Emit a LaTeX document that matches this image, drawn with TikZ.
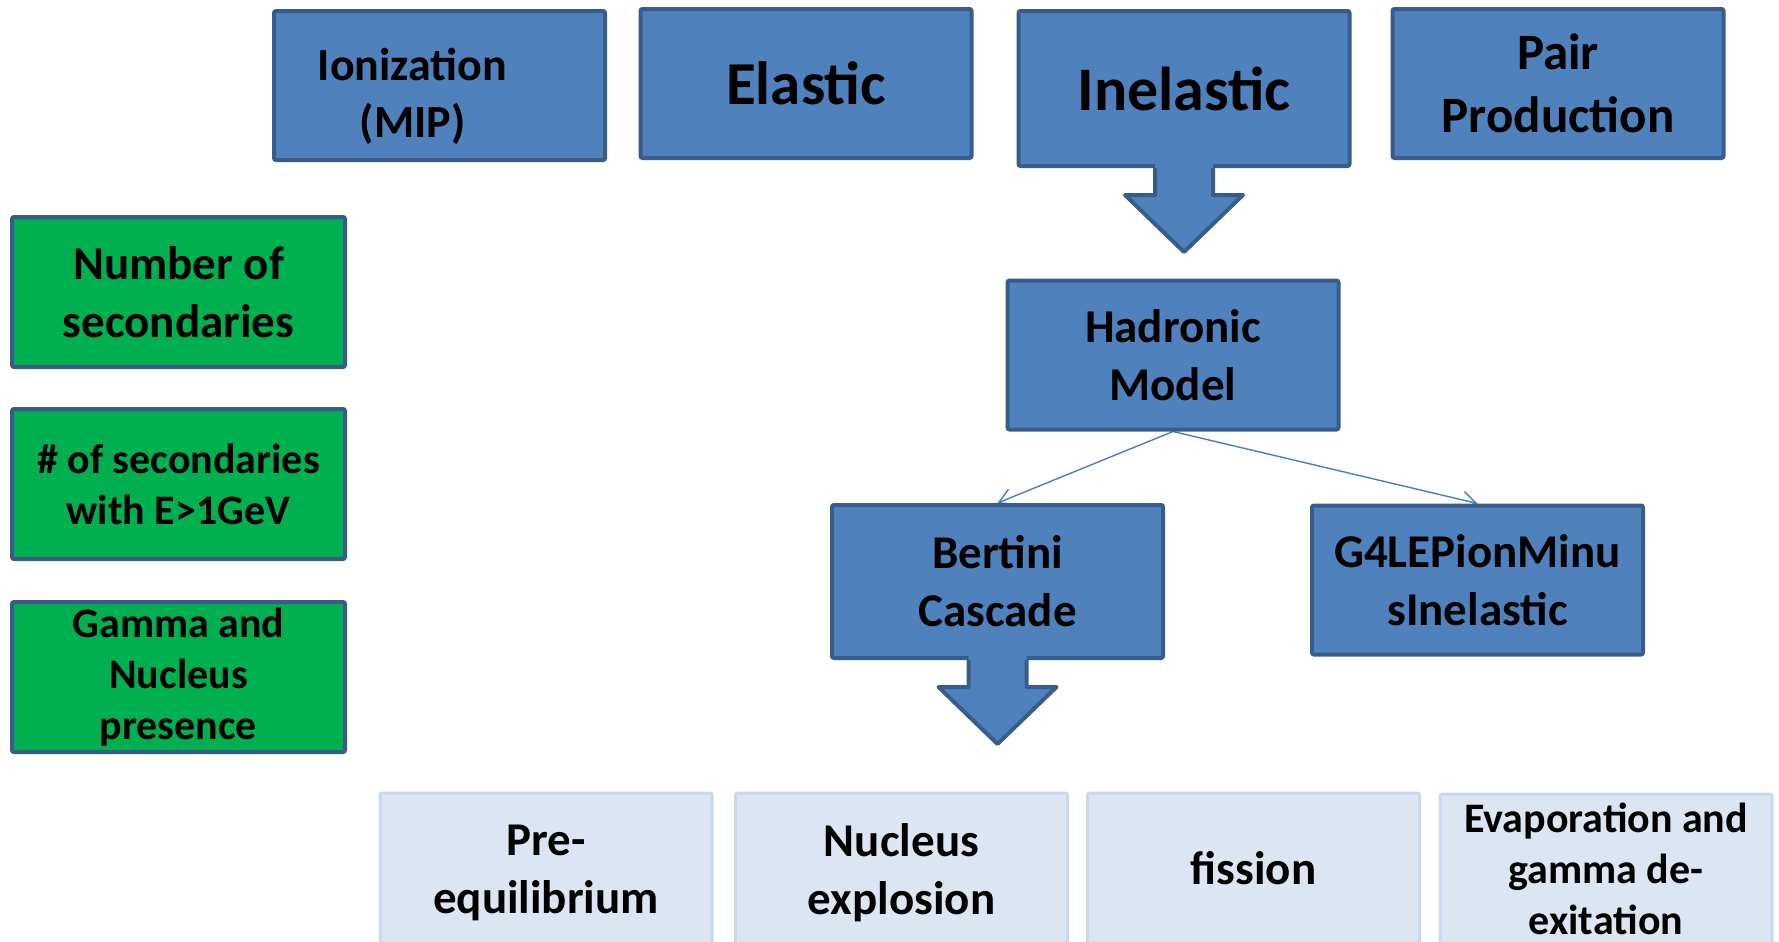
\documentclass[tikz,border=0pt]{standalone}
\usepackage{fontspec}
\setmainfont{Carlito}
\usetikzlibrary{arrows.meta,backgrounds}
\definecolor{boxblue}{RGB}{79,129,189}
\definecolor{boxline}{RGB}{56,93,138}
\definecolor{boxgreen}{RGB}{0,176,80}
\definecolor{stepfill}{RGB}{220,230,242}
\definecolor{stepline}{RGB}{198,217,241}
\definecolor{linkblue}{RGB}{74,126,187}

\begin{document}
\begin{tikzpicture}[x=0.5pt,y=-0.5pt]
		\tikzset{> = {Straight Barb[length=7pt,width=8.5pt]},
			block/.style = {draw=boxline, line width=2pt, fill=boxblue, rounded corners=1pt,
				minimum width=165.5pt, minimum height=74.5pt, inner sep=0pt, align=center,
				font=\bfseries\fontsize{23.5}{29}\selectfont},
			result/.style = {block, fill=boxgreen, minimum width=166.5pt, minimum height=75pt},
			stage/.style = {block, draw=stepline, line width=1.5pt, fill=stepfill, minimum width=166pt, minimum height=75pt},
			small/.style = {font=\bfseries\fontsize{21}{25.5}\selectfont},
			link/.style = {->, draw=linkblue, line width=0.7pt}}
		\useasboundingbox (0,0) rectangle (1779,942);
		% processes
		\node[block, label={[align=center, font=\bfseries\fontsize{23}{28.5}\selectfont, xshift=-13.5pt, yshift=-5.5pt]center:{Ionization\\(MIP)}}] (ion) at (439.5,85.5){};
		\node[block, font=\bfseries\fontsize{30.5}{37}\selectfont] (elas) at (806,83.5){Elastic};
		\node[block, minimum height=77.5pt, font=\bfseries\fontsize{31}{37}\selectfont] (inel) at (1184,88.5){Inelastic};
		\node[block, font=\bfseries\fontsize{25.5}{31.5}\selectfont] (pair) at (1558,83.5){Pair\\Production};
		% models
		\node[block] (hadr) at (1173,355){Hadronic\\Model};
		\node[block, minimum height=76.5pt] (bert) at (997.5,581.5){Bertini\\Cascade};
		\node[block] (g4le) at (1477.5,580){G4LEPionMinu\\sInelastic};
		% observables
		\node[result] (nsec) at (178.5,292){Number of\\secondaries};
		\node[result, small] (esec) at (178.5,484){\# of secondaries\\with E>1GeV};
		\node[result, small] (gamn) at (178.5,677){Gamma and\\Nucleus\\presence};
		% cascade stages (bottom edge runs off the page)
		\node[stage, minimum height=80pt] (pre) at (546,873){Pre-\\equilibrium};
		\node[stage, minimum height=80pt] (nucl) at (901.5,873){Nucleus\\explosion};
		\node[stage] (fiss) at (1253.5,868){fission};
		\node[stage, small] (evap) at (1606,869){Evaporation and\\gamma de-\\exitation};
		\begin{scope}[on background layer]
			\draw[link] (hadr.south) -- (bert.north);
			\draw[link] (hadr.south) -- (g4le.north);
		\end{scope}
		\foreach \src in {inel,bert}{
			\fill[boxblue] (\src.south) ++(-29,-4) -- ++(0,31) -- ++(-30,0) -- ++(59,57) -- ++(59,-57) -- ++(-30,0) -- ++(0,-31) -- cycle;
			\draw[boxline, line width=2pt, line join=round] (\src.south) ++(-29,0) -- ++(0,27) -- ++(-30,0) -- ++(59,57) -- ++(59,-57) -- ++(-30,0) -- ++(0,-27);
		}
	\end{tikzpicture}
\end{document}
